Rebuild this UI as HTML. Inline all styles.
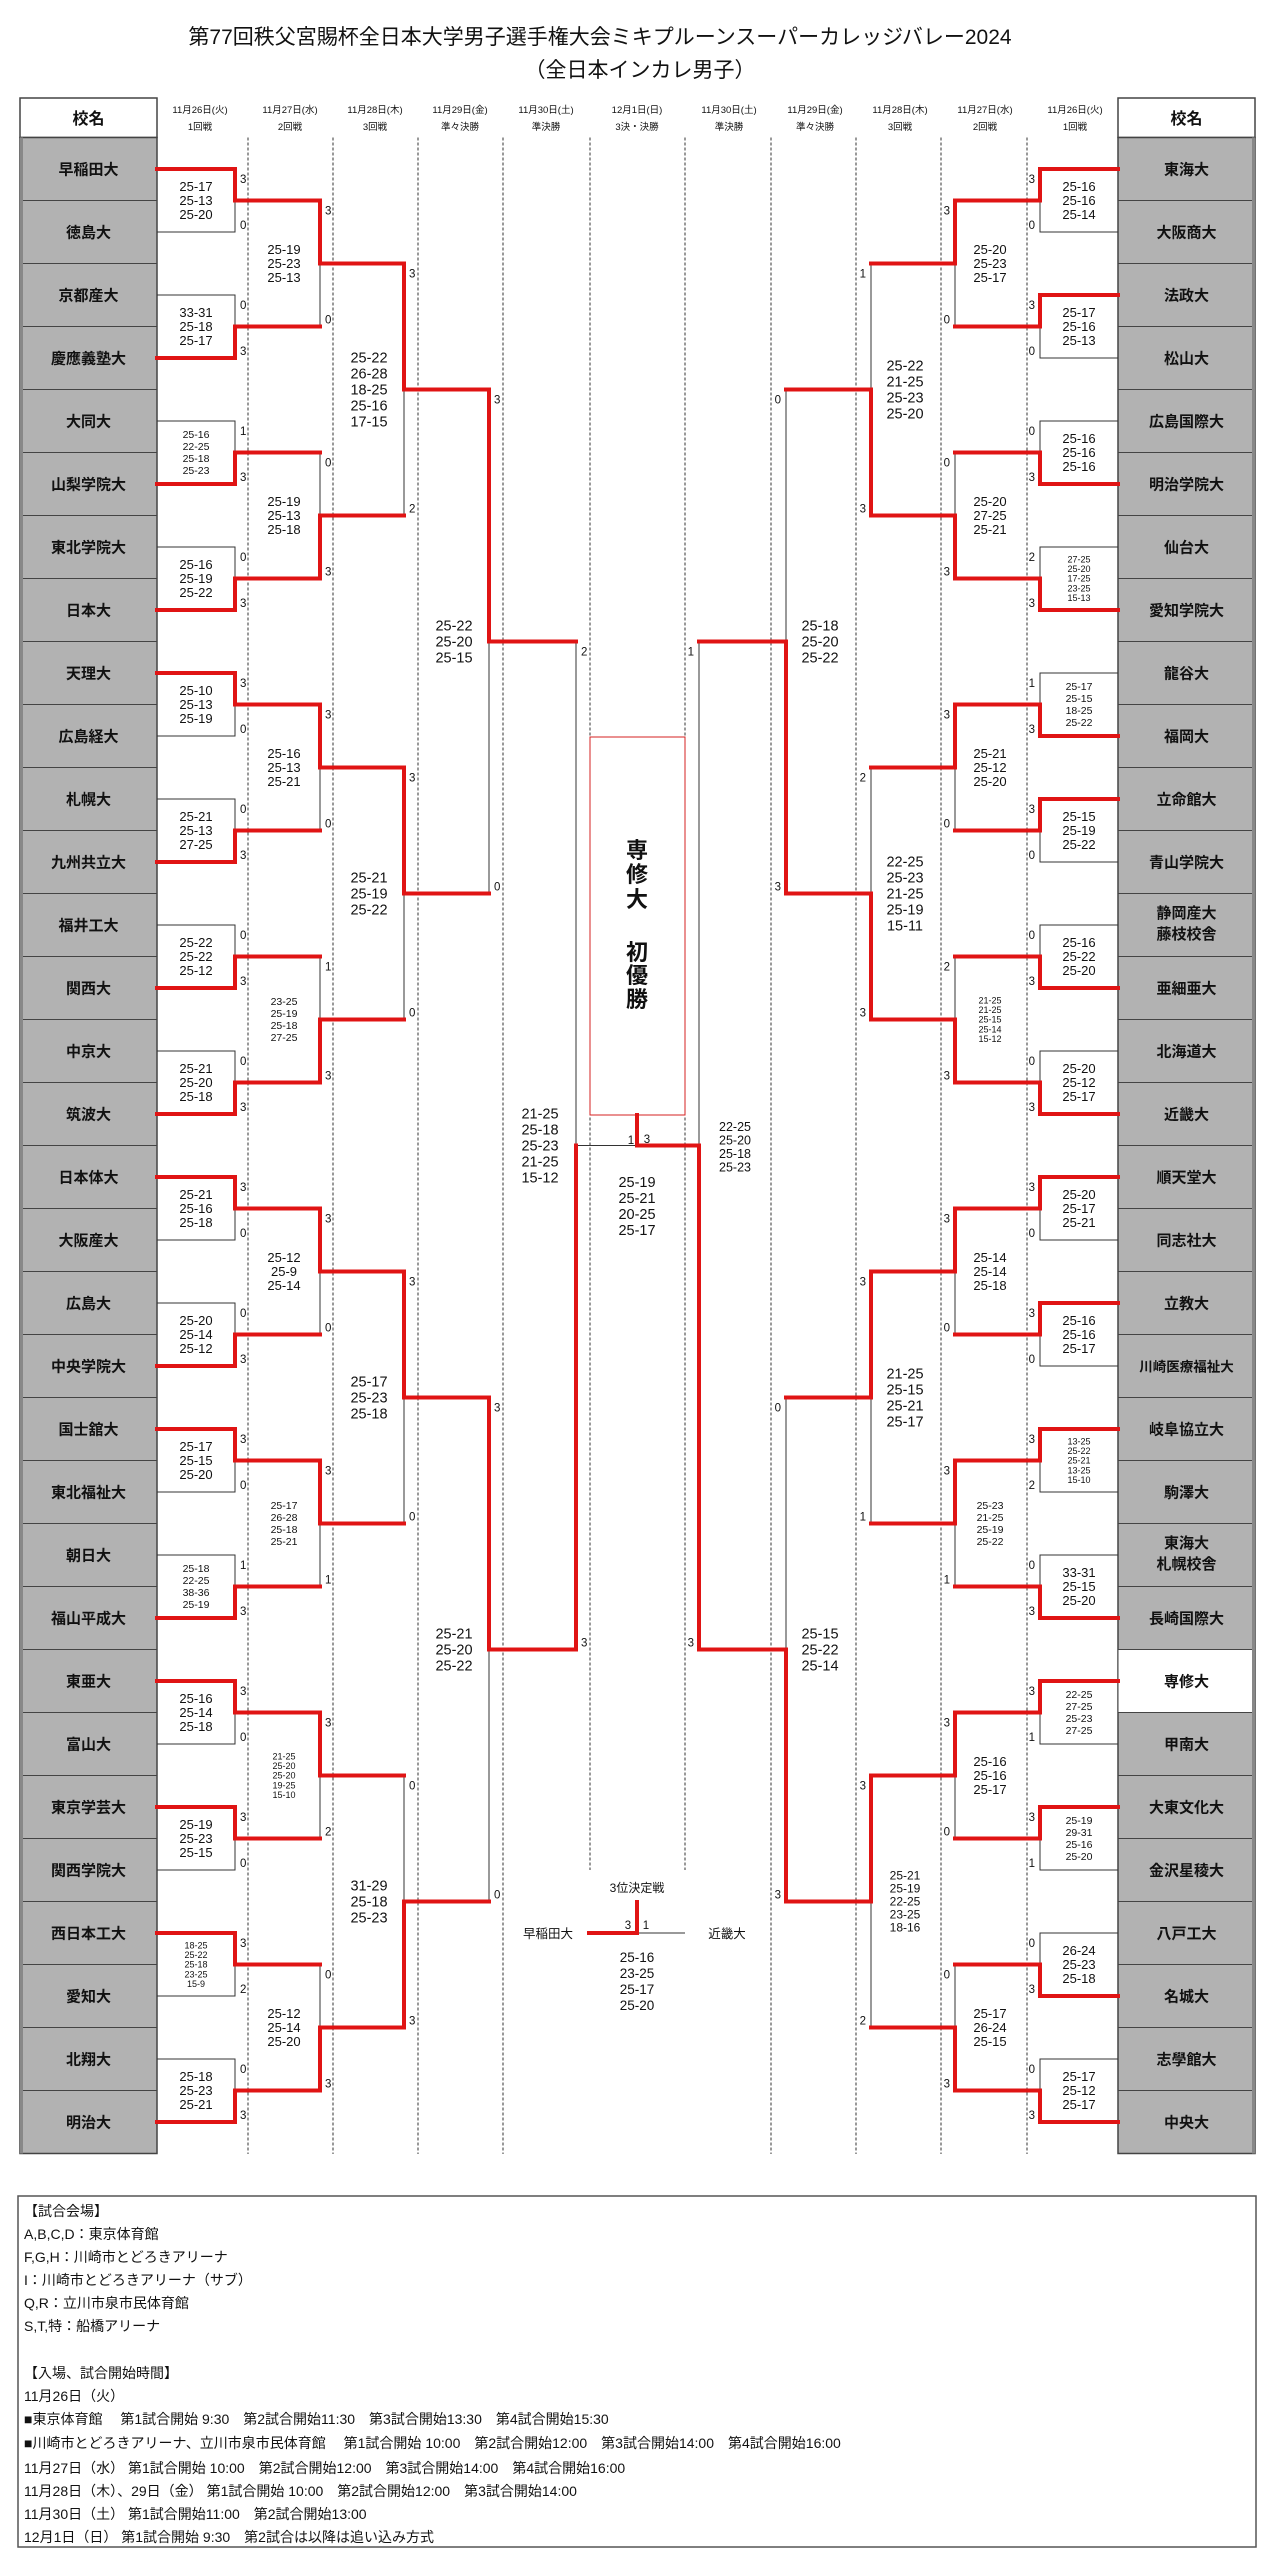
<!DOCTYPE html>
<html><head><meta charset="utf-8">
<style>
html,body{margin:0;padding:0;background:#fff;}
svg{display:block;}
text{font-family:"Liberation Sans","Noto Sans CJK JP",sans-serif;fill:#111;}
.t{font-size:21px;}
.nm{font-size:15px;font-weight:bold;text-anchor:middle;}
.hd{font-size:16px;font-weight:bold;text-anchor:middle;}
.dt{font-size:9.5px;text-anchor:middle;}
.n{font-size:11.5px;}
.ne{font-size:11.5px;text-anchor:end;}
.s3{font-size:13px;text-anchor:middle;}
.s4{font-size:10.5px;text-anchor:middle;}
.s5{font-size:9px;text-anchor:middle;}
.b{font-size:14.5px;text-anchor:middle;}
.m5{font-size:12px;text-anchor:middle;}
.m4{font-size:12.5px;text-anchor:middle;}
.ch{font-size:22px;font-weight:bold;text-anchor:middle;}
.ft{font-size:14px;}
</style></head><body>
<svg width="1285" height="2560" viewBox="0 0 1285 2560" xmlns="http://www.w3.org/2000/svg">
<rect width="1285" height="2560" fill="#fff"/>
<!-- title -->
<text class="t" x="600" y="44" text-anchor="middle">第77回秩父宮賜杯全日本大学男子選手権大会ミキプルーンスーパーカレッジバレー2024</text>
<text class="t" x="640" y="77" text-anchor="middle">（全日本インカレ男子）</text>

<!-- header cells -->
<rect x="20" y="98" width="137" height="39.5" fill="#fff" stroke="#444" stroke-width="1.5"/>
<rect x="1118" y="98" width="137" height="39.5" fill="#fff" stroke="#444" stroke-width="1.5"/>
<text class="hd" x="88.5" y="124">校名</text>
<text class="hd" x="1186.5" y="124">校名</text>

<!-- header dates -->
<g class="dt">
<text class="dt" x="200" y="113">11月26日(火)</text><text class="dt" x="200" y="130">1回戦</text>
<text class="dt" x="290" y="113">11月27日(水)</text><text class="dt" x="290" y="130">2回戦</text>
<text class="dt" x="375" y="113">11月28日(木)</text><text class="dt" x="375" y="130">3回戦</text>
<text class="dt" x="460" y="113">11月29日(金)</text><text class="dt" x="460" y="130">準々決勝</text>
<text class="dt" x="546" y="113">11月30日(土)</text><text class="dt" x="546" y="130">準決勝</text>
<text class="dt" x="637" y="113">12月1日(日)</text><text class="dt" x="637" y="130">3決・決勝</text>
<text class="dt" x="729" y="113">11月30日(土)</text><text class="dt" x="729" y="130">準決勝</text>
<text class="dt" x="815" y="113">11月29日(金)</text><text class="dt" x="815" y="130">準々決勝</text>
<text class="dt" x="900" y="113">11月28日(木)</text><text class="dt" x="900" y="130">3回戦</text>
<text class="dt" x="985" y="113">11月27日(水)</text><text class="dt" x="985" y="130">2回戦</text>
<text class="dt" x="1075" y="113">11月26日(火)</text><text class="dt" x="1075" y="130">1回戦</text>
</g>

<!-- dashed column lines -->
<g stroke="#333" stroke-width="1" stroke-dasharray="3,2">
<line x1="248" y1="137.5" x2="248" y2="2154"/>
<line x1="333" y1="137.5" x2="333" y2="2154"/>
<line x1="418" y1="137.5" x2="418" y2="2154"/>
<line x1="503" y1="137.5" x2="503" y2="2154"/>
<line x1="590" y1="137.5" x2="590" y2="1870"/>
<line x1="685" y1="137.5" x2="685" y2="1870"/>
<line x1="771" y1="137.5" x2="771" y2="2154"/>
<line x1="856" y1="137.5" x2="856" y2="2154"/>
<line x1="941" y1="137.5" x2="941" y2="2154"/>
<line x1="1027" y1="137.5" x2="1027" y2="2154"/>
</g>

<!-- name columns -->
<rect x="20" y="137.5" width="137" height="2016" fill="#b2b2b2" stroke="#444" stroke-width="1.5"/>
<rect x="1118" y="137.5" width="137" height="2016" fill="#b2b2b2" stroke="#444" stroke-width="1.5"/>
<rect x="1118" y="1649.5" width="137" height="63" fill="#fff" stroke="#444" stroke-width="1"/>
<path stroke="#444" stroke-width="1" fill="none" d="M20 200.5H157M20 263.5H157M20 326.5H157M20 389.5H157M20 452.5H157M20 515.5H157M20 578.5H157M20 641.5H157M20 704.5H157M20 767.5H157M20 830.5H157M20 893.5H157M20 956.5H157M20 1019.5H157M20 1082.5H157M20 1145.5H157M20 1208.5H157M20 1271.5H157M20 1334.5H157M20 1397.5H157M20 1460.5H157M20 1523.5H157M20 1586.5H157M20 1649.5H157M20 1712.5H157M20 1775.5H157M20 1838.5H157M20 1901.5H157M20 1964.5H157M20 2027.5H157M20 2090.5H157
M1118 200.5H1255M1118 263.5H1255M1118 326.5H1255M1118 389.5H1255M1118 452.5H1255M1118 515.5H1255M1118 578.5H1255M1118 641.5H1255M1118 704.5H1255M1118 767.5H1255M1118 830.5H1255M1118 893.5H1255M1118 956.5H1255M1118 1019.5H1255M1118 1082.5H1255M1118 1145.5H1255M1118 1208.5H1255M1118 1271.5H1255M1118 1334.5H1255M1118 1397.5H1255M1118 1460.5H1255M1118 1523.5H1255M1118 1586.5H1255M1118 1649.5H1255M1118 1712.5H1255M1118 1775.5H1255M1118 1838.5H1255M1118 1901.5H1255M1118 1964.5H1255M1118 2027.5H1255M1118 2090.5H1255"/>
<line x1="21.5" y1="137.5" x2="21.5" y2="2153.5" stroke="#888" stroke-width="3"/>
<line x1="1253.5" y1="137.5" x2="1253.5" y2="2153.5" stroke="#888" stroke-width="3"/>

<!-- left names -->
<text class="nm" x="88.5" y="174.5">早稲田大</text>
<text class="nm" x="88.5" y="237.5">徳島大</text>
<text class="nm" x="88.5" y="300.5">京都産大</text>
<text class="nm" x="88.5" y="363.5">慶應義塾大</text>
<text class="nm" x="88.5" y="426.5">大同大</text>
<text class="nm" x="88.5" y="489.5">山梨学院大</text>
<text class="nm" x="88.5" y="552.5">東北学院大</text>
<text class="nm" x="88.5" y="615.5">日本大</text>
<text class="nm" x="88.5" y="678.5">天理大</text>
<text class="nm" x="88.5" y="741.5">広島経大</text>
<text class="nm" x="88.5" y="804.5">札幌大</text>
<text class="nm" x="88.5" y="867.5">九州共立大</text>
<text class="nm" x="88.5" y="930.5">福井工大</text>
<text class="nm" x="88.5" y="993.5">関西大</text>
<text class="nm" x="88.5" y="1056.5">中京大</text>
<text class="nm" x="88.5" y="1119.5">筑波大</text>
<text class="nm" x="88.5" y="1182.5">日本体大</text>
<text class="nm" x="88.5" y="1245.5">大阪産大</text>
<text class="nm" x="88.5" y="1308.5">広島大</text>
<text class="nm" x="88.5" y="1371.5">中央学院大</text>
<text class="nm" x="88.5" y="1434.5">国士舘大</text>
<text class="nm" x="88.5" y="1497.5">東北福祉大</text>
<text class="nm" x="88.5" y="1560.5">朝日大</text>
<text class="nm" x="88.5" y="1623.5">福山平成大</text>
<text class="nm" x="88.5" y="1686.5">東亜大</text>
<text class="nm" x="88.5" y="1749.5">富山大</text>
<text class="nm" x="88.5" y="1812.5">東京学芸大</text>
<text class="nm" x="88.5" y="1875.5">関西学院大</text>
<text class="nm" x="88.5" y="1938.5">西日本工大</text>
<text class="nm" x="88.5" y="2001.5">愛知大</text>
<text class="nm" x="88.5" y="2064.5">北翔大</text>
<text class="nm" x="88.5" y="2127.5">明治大</text>

<!-- right names -->
<text class="nm" x="1186.5" y="174.5">東海大</text>
<text class="nm" x="1186.5" y="237.5">大阪商大</text>
<text class="nm" x="1186.5" y="300.5">法政大</text>
<text class="nm" x="1186.5" y="363.5">松山大</text>
<text class="nm" x="1186.5" y="426.5">広島国際大</text>
<text class="nm" x="1186.5" y="489.5">明治学院大</text>
<text class="nm" x="1186.5" y="552.5">仙台大</text>
<text class="nm" x="1186.5" y="615.5">愛知学院大</text>
<text class="nm" x="1186.5" y="678.5">龍谷大</text>
<text class="nm" x="1186.5" y="741.5">福岡大</text>
<text class="nm" x="1186.5" y="804.5">立命館大</text>
<text class="nm" x="1186.5" y="867.5">青山学院大</text>
<text class="nm" x="1186.5" y="918">静岡産大</text>
<text class="nm" x="1186.5" y="939">藤枝校舎</text>
<text class="nm" x="1186.5" y="993.5">亜細亜大</text>
<text class="nm" x="1186.5" y="1056.5">北海道大</text>
<text class="nm" x="1186.5" y="1119.5">近畿大</text>
<text class="nm" x="1186.5" y="1182.5">順天堂大</text>
<text class="nm" x="1186.5" y="1245.5">同志社大</text>
<text class="nm" x="1186.5" y="1308.5">立教大</text>
<text class="nm" x="1186.5" y="1371.5" style="font-size:13.5px">川崎医療福祉大</text>
<text class="nm" x="1186.5" y="1434.5">岐阜協立大</text>
<text class="nm" x="1186.5" y="1497.5">駒澤大</text>
<text class="nm" x="1186.5" y="1548">東海大</text>
<text class="nm" x="1186.5" y="1569">札幌校舎</text>
<text class="nm" x="1186.5" y="1623.5">長崎国際大</text>
<text class="nm" x="1186.5" y="1686.5">専修大</text>
<text class="nm" x="1186.5" y="1749.5">甲南大</text>
<text class="nm" x="1186.5" y="1812.5">大東文化大</text>
<text class="nm" x="1186.5" y="1875.5">金沢星稜大</text>
<text class="nm" x="1186.5" y="1938.5">八戸工大</text>
<text class="nm" x="1186.5" y="2001.5">名城大</text>
<text class="nm" x="1186.5" y="2064.5">志學館大</text>
<text class="nm" x="1186.5" y="2127.5">中央大</text>

<!-- black bracket lines -->
<path fill="none" stroke="#333" stroke-width="1" d="
M157 169H235V232H157M157 295H235V358H157M157 421H235V484H157M157 547H235V610H157M157 673H235V736H157M157 799H235V862H157M157 925H235V988H157M157 1051H235V1114H157M157 1177H235V1240H157M157 1303H235V1366H157M157 1429H235V1492H157M157 1555H235V1618H157M157 1681H235V1744H157M157 1807H235V1870H157M157 1933H235V1996H157M157 2059H235V2122H157
M235 200.5H320V326.5H235M235 452.5H320V578.5H235M235 704.5H320V830.5H235M235 956.5H320V1082.5H235M235 1208.5H320V1334.5H235M235 1460.5H320V1586.5H235M235 1712.5H320V1838.5H235M235 1964.5H320V2090.5H235
M320 263.5H404V515.5H320M320 767.5H404V1019.5H320M320 1271.5H404V1523.5H320M320 1775.5H404V2027.5H320
M404 389.5H489V893.5H404M404 1397.5H489V1901.5H404
M489 641.5H576V1649.5H489M576 1145.5H637
M1118 169H1040V232H1118M1118 295H1040V358H1118M1118 421H1040V484H1118M1118 547H1040V610H1118M1118 673H1040V736H1118M1118 799H1040V862H1118M1118 925H1040V988H1118M1118 1051H1040V1114H1118M1118 1177H1040V1240H1118M1118 1303H1040V1366H1118M1118 1429H1040V1492H1118M1118 1555H1040V1618H1118M1118 1681H1040V1744H1118M1118 1807H1040V1870H1118M1118 1933H1040V1996H1118M1118 2059H1040V2122H1118
M1040 200.5H955V326.5H1040M1040 452.5H955V578.5H1040M1040 704.5H955V830.5H1040M1040 956.5H955V1082.5H1040M1040 1208.5H955V1334.5H1040M1040 1460.5H955V1586.5H1040M1040 1712.5H955V1838.5H1040M1040 1964.5H955V2090.5H1040
M955 263.5H871V515.5H955M955 767.5H871V1019.5H955M955 1271.5H871V1523.5H955M955 1775.5H871V2027.5H955
M871 389.5H786V893.5H871M871 1397.5H786V1901.5H871
M786 641.5H699V1649.5H786M699 1145.5H637
M637 1933H685"/>

<!-- champion box -->
<rect x="590" y="737" width="95" height="378" fill="#fff" stroke="#d42020" stroke-width="1"/>

<!-- red winner lines -->
<path fill="none" stroke="#e01414" stroke-width="4" stroke-linejoin="miter" stroke-linecap="square" d="
M157 169H235V200.5H320M157 358H235V326.5H320M157 484H235V452.5H320M157 610H235V578.5H320M157 673H235V704.5H320M157 862H235V830.5H320M157 988H235V956.5H320M157 1114H235V1082.5H320M157 1177H235V1208.5H320M157 1366H235V1334.5H320M157 1429H235V1460.5H320M157 1618H235V1586.5H320M157 1681H235V1712.5H320M157 1807H235V1838.5H320M157 1933H235V1964.5H320M157 2122H235V2090.5H320
M320 200.5V263.5H404M320 578.5V515.5H404M320 704.5V767.5H404M320 1082.5V1019.5H404M320 1208.5V1271.5H404M320 1460.5V1523.5H404M320 1712.5V1775.5H404M320 2090.5V2027.5H404
M404 263.5V389.5H489M404 767.5V893.5H489M404 1271.5V1397.5H489M404 2027.5V1901.5H489
M489 389.5V641.5H576M489 1397.5V1649.5H576
M576 1649.5V1145.5
M1118 169H1040V200.5H955M1118 295H1040V326.5H955M1118 484H1040V452.5H955M1118 610H1040V578.5H955M1118 736H1040V704.5H955M1118 799H1040V830.5H955M1118 988H1040V956.5H955M1118 1114H1040V1082.5H955M1118 1177H1040V1208.5H955M1118 1303H1040V1334.5H955M1118 1429H1040V1460.5H955M1118 1618H1040V1586.5H955M1118 1681H1040V1712.5H955M1118 1807H1040V1838.5H955M1118 1996H1040V1964.5H955M1118 2122H1040V2090.5H955
M955 200.5V263.5H871M955 578.5V515.5H871M955 704.5V767.5H871M955 1082.5V1019.5H871M955 1208.5V1271.5H871M955 1460.5V1523.5H871M955 1712.5V1775.5H871M955 2090.5V2027.5H871
M871 515.5V389.5H786M871 1019.5V893.5H786M871 1271.5V1397.5H786M871 1775.5V1901.5H786
M786 893.5V641.5H699M786 1901.5V1649.5H699
M699 1649.5V1145.5H637V1115
M589 1933H637V1902"/>

<!-- champion text -->
<text class="ch" x="637" y="858">専</text>
<text class="ch" x="637" y="882">修</text>
<text class="ch" x="637" y="907">大</text>
<text class="ch" x="637" y="960">初</text>
<text class="ch" x="637" y="983">優</text>
<text class="ch" x="637" y="1007">勝</text>

<!-- final -->
<text class="n" x="631" y="1144" text-anchor="middle">1</text>
<text class="n" x="647" y="1143" text-anchor="middle">3</text>
<text class="b" x="637" y="1187"><tspan x="637">25-19</tspan><tspan x="637" dy="16">25-21</tspan><tspan x="637" dy="16">20-25</tspan><tspan x="637" dy="16">25-17</tspan></text>

<!-- third place -->
<text x="637" y="1892" text-anchor="middle" style="font-size:12px">3位決定戦</text>
<text x="548" y="1938" text-anchor="middle" style="font-size:12.5px">早稲田大</text>
<text x="727" y="1938" text-anchor="middle" style="font-size:12.5px">近畿大</text>
<text class="n" x="628" y="1929" text-anchor="middle">3</text>
<text class="n" x="646" y="1929" text-anchor="middle">1</text>
<text class="b" x="637" y="1962" style="font-size:13.5px"><tspan x="637">25-16</tspan><tspan x="637" dy="16">23-25</tspan><tspan x="637" dy="16">25-17</tspan><tspan x="637" dy="16">25-20</tspan></text>

<!-- LEFT R1 scores -->
<text class="s3" x="196" y="191"><tspan x="196">25-17</tspan><tspan x="196" dy="14">25-13</tspan><tspan x="196" dy="14">25-20</tspan></text>
<text class="s3" x="196" y="317"><tspan x="196">33-31</tspan><tspan x="196" dy="14">25-18</tspan><tspan x="196" dy="14">25-17</tspan></text>
<text class="s4" x="196" y="438.2"><tspan x="196">25-16</tspan><tspan x="196" dy="12">22-25</tspan><tspan x="196" dy="12">25-18</tspan><tspan x="196" dy="12">25-23</tspan></text>
<text class="s3" x="196" y="569"><tspan x="196">25-16</tspan><tspan x="196" dy="14">25-19</tspan><tspan x="196" dy="14">25-22</tspan></text>
<text class="s3" x="196" y="695"><tspan x="196">25-10</tspan><tspan x="196" dy="14">25-13</tspan><tspan x="196" dy="14">25-19</tspan></text>
<text class="s3" x="196" y="821"><tspan x="196">25-21</tspan><tspan x="196" dy="14">25-13</tspan><tspan x="196" dy="14">27-25</tspan></text>
<text class="s3" x="196" y="947"><tspan x="196">25-22</tspan><tspan x="196" dy="14">25-22</tspan><tspan x="196" dy="14">25-12</tspan></text>
<text class="s3" x="196" y="1073"><tspan x="196">25-21</tspan><tspan x="196" dy="14">25-20</tspan><tspan x="196" dy="14">25-18</tspan></text>
<text class="s3" x="196" y="1199"><tspan x="196">25-21</tspan><tspan x="196" dy="14">25-16</tspan><tspan x="196" dy="14">25-18</tspan></text>
<text class="s3" x="196" y="1325"><tspan x="196">25-20</tspan><tspan x="196" dy="14">25-14</tspan><tspan x="196" dy="14">25-12</tspan></text>
<text class="s3" x="196" y="1451"><tspan x="196">25-17</tspan><tspan x="196" dy="14">25-15</tspan><tspan x="196" dy="14">25-20</tspan></text>
<text class="s4" x="196" y="1572.2"><tspan x="196">25-18</tspan><tspan x="196" dy="12">22-25</tspan><tspan x="196" dy="12">38-36</tspan><tspan x="196" dy="12">25-19</tspan></text>
<text class="s3" x="196" y="1703"><tspan x="196">25-16</tspan><tspan x="196" dy="14">25-14</tspan><tspan x="196" dy="14">25-18</tspan></text>
<text class="s3" x="196" y="1829"><tspan x="196">25-19</tspan><tspan x="196" dy="14">25-23</tspan><tspan x="196" dy="14">25-15</tspan></text>
<text class="s5" x="196" y="1948.5"><tspan x="196">18-25</tspan><tspan x="196" dy="9.6">25-22</tspan><tspan x="196" dy="9.6">25-18</tspan><tspan x="196" dy="9.6">23-25</tspan><tspan x="196" dy="9.6">15-9</tspan></text>
<text class="s3" x="196" y="2081"><tspan x="196">25-18</tspan><tspan x="196" dy="14">25-23</tspan><tspan x="196" dy="14">25-21</tspan></text>

<!-- LEFT R2 -->
<text class="s3" x="284" y="254"><tspan x="284">25-19</tspan><tspan x="284" dy="14">25-23</tspan><tspan x="284" dy="14">25-13</tspan></text>
<text class="s3" x="284" y="506"><tspan x="284">25-19</tspan><tspan x="284" dy="14">25-13</tspan><tspan x="284" dy="14">25-18</tspan></text>
<text class="s3" x="284" y="758"><tspan x="284">25-16</tspan><tspan x="284" dy="14">25-13</tspan><tspan x="284" dy="14">25-21</tspan></text>
<text class="s4" x="284" y="1005.2"><tspan x="284">23-25</tspan><tspan x="284" dy="12">25-19</tspan><tspan x="284" dy="12">25-18</tspan><tspan x="284" dy="12">27-25</tspan></text>
<text class="s3" x="284" y="1262"><tspan x="284">25-12</tspan><tspan x="284" dy="14">25-9</tspan><tspan x="284" dy="14">25-14</tspan></text>
<text class="s4" x="284" y="1509.2"><tspan x="284">25-17</tspan><tspan x="284" dy="12">26-28</tspan><tspan x="284" dy="12">25-18</tspan><tspan x="284" dy="12">25-21</tspan></text>
<text class="s5" x="284" y="1759.5"><tspan x="284">21-25</tspan><tspan x="284" dy="9.6">25-20</tspan><tspan x="284" dy="9.6">25-20</tspan><tspan x="284" dy="9.6">19-25</tspan><tspan x="284" dy="9.6">15-10</tspan></text>
<text class="s3" x="284" y="2018"><tspan x="284">25-12</tspan><tspan x="284" dy="14">25-14</tspan><tspan x="284" dy="14">25-20</tspan></text>

<!-- LEFT R3 -->
<text class="b" x="369" y="362.6"><tspan x="369">25-22</tspan><tspan x="369" dy="16">26-28</tspan><tspan x="369" dy="16">18-25</tspan><tspan x="369" dy="16">25-16</tspan><tspan x="369" dy="16">17-15</tspan></text>
<text class="b" x="369" y="882.6"><tspan x="369">25-21</tspan><tspan x="369" dy="16">25-19</tspan><tspan x="369" dy="16">25-22</tspan></text>
<text class="b" x="369" y="1386.6"><tspan x="369">25-17</tspan><tspan x="369" dy="16">25-23</tspan><tspan x="369" dy="16">25-18</tspan></text>
<text class="b" x="369" y="1890.6"><tspan x="369">31-29</tspan><tspan x="369" dy="16">25-18</tspan><tspan x="369" dy="16">25-23</tspan></text>

<!-- LEFT QF / SF -->
<text class="b" x="454" y="630.6"><tspan x="454">25-22</tspan><tspan x="454" dy="16">25-20</tspan><tspan x="454" dy="16">25-15</tspan></text>
<text class="b" x="454" y="1638.6"><tspan x="454">25-21</tspan><tspan x="454" dy="16">25-20</tspan><tspan x="454" dy="16">25-22</tspan></text>
<text class="b" x="540" y="1118.6"><tspan x="540">21-25</tspan><tspan x="540" dy="16">25-18</tspan><tspan x="540" dy="16">25-23</tspan><tspan x="540" dy="16">21-25</tspan><tspan x="540" dy="16">15-12</tspan></text>

<!-- RIGHT R1 -->
<text class="s3" x="1079" y="191"><tspan x="1079">25-16</tspan><tspan x="1079" dy="14">25-16</tspan><tspan x="1079" dy="14">25-14</tspan></text>
<text class="s3" x="1079" y="317"><tspan x="1079">25-17</tspan><tspan x="1079" dy="14">25-16</tspan><tspan x="1079" dy="14">25-13</tspan></text>
<text class="s3" x="1079" y="443"><tspan x="1079">25-16</tspan><tspan x="1079" dy="14">25-16</tspan><tspan x="1079" dy="14">25-16</tspan></text>
<text class="s5" x="1079" y="562.5"><tspan x="1079">27-25</tspan><tspan x="1079" dy="9.6">25-20</tspan><tspan x="1079" dy="9.6">17-25</tspan><tspan x="1079" dy="9.6">23-25</tspan><tspan x="1079" dy="9.6">15-13</tspan></text>
<text class="s4" x="1079" y="690.2"><tspan x="1079">25-17</tspan><tspan x="1079" dy="12">25-15</tspan><tspan x="1079" dy="12">18-25</tspan><tspan x="1079" dy="12">25-22</tspan></text>
<text class="s3" x="1079" y="821"><tspan x="1079">25-15</tspan><tspan x="1079" dy="14">25-19</tspan><tspan x="1079" dy="14">25-22</tspan></text>
<text class="s3" x="1079" y="947"><tspan x="1079">25-16</tspan><tspan x="1079" dy="14">25-22</tspan><tspan x="1079" dy="14">25-20</tspan></text>
<text class="s3" x="1079" y="1073"><tspan x="1079">25-20</tspan><tspan x="1079" dy="14">25-12</tspan><tspan x="1079" dy="14">25-17</tspan></text>
<text class="s3" x="1079" y="1199"><tspan x="1079">25-20</tspan><tspan x="1079" dy="14">25-17</tspan><tspan x="1079" dy="14">25-21</tspan></text>
<text class="s3" x="1079" y="1325"><tspan x="1079">25-16</tspan><tspan x="1079" dy="14">25-16</tspan><tspan x="1079" dy="14">25-17</tspan></text>
<text class="s5" x="1079" y="1444.5"><tspan x="1079">13-25</tspan><tspan x="1079" dy="9.6">25-22</tspan><tspan x="1079" dy="9.6">25-21</tspan><tspan x="1079" dy="9.6">13-25</tspan><tspan x="1079" dy="9.6">15-10</tspan></text>
<text class="s3" x="1079" y="1577"><tspan x="1079">33-31</tspan><tspan x="1079" dy="14">25-15</tspan><tspan x="1079" dy="14">25-20</tspan></text>
<text class="s4" x="1079" y="1698.2"><tspan x="1079">22-25</tspan><tspan x="1079" dy="12">27-25</tspan><tspan x="1079" dy="12">25-23</tspan><tspan x="1079" dy="12">27-25</tspan></text>
<text class="s4" x="1079" y="1824.2"><tspan x="1079">25-19</tspan><tspan x="1079" dy="12">29-31</tspan><tspan x="1079" dy="12">25-16</tspan><tspan x="1079" dy="12">25-20</tspan></text>
<text class="s3" x="1079" y="1955"><tspan x="1079">26-24</tspan><tspan x="1079" dy="14">25-23</tspan><tspan x="1079" dy="14">25-18</tspan></text>
<text class="s3" x="1079" y="2081"><tspan x="1079">25-17</tspan><tspan x="1079" dy="14">25-12</tspan><tspan x="1079" dy="14">25-17</tspan></text>

<!-- RIGHT R2 -->
<text class="s3" x="990" y="254"><tspan x="990">25-20</tspan><tspan x="990" dy="14">25-23</tspan><tspan x="990" dy="14">25-17</tspan></text>
<text class="s3" x="990" y="506"><tspan x="990">25-20</tspan><tspan x="990" dy="14">27-25</tspan><tspan x="990" dy="14">25-21</tspan></text>
<text class="s3" x="990" y="758"><tspan x="990">25-21</tspan><tspan x="990" dy="14">25-12</tspan><tspan x="990" dy="14">25-20</tspan></text>
<text class="s5" x="990" y="1003.5"><tspan x="990">21-25</tspan><tspan x="990" dy="9.6">21-25</tspan><tspan x="990" dy="9.6">25-15</tspan><tspan x="990" dy="9.6">25-14</tspan><tspan x="990" dy="9.6">15-12</tspan></text>
<text class="s3" x="990" y="1262"><tspan x="990">25-14</tspan><tspan x="990" dy="14">25-14</tspan><tspan x="990" dy="14">25-18</tspan></text>
<text class="s4" x="990" y="1509.2"><tspan x="990">25-23</tspan><tspan x="990" dy="12">21-25</tspan><tspan x="990" dy="12">25-19</tspan><tspan x="990" dy="12">25-22</tspan></text>
<text class="s3" x="990" y="1766"><tspan x="990">25-16</tspan><tspan x="990" dy="14">25-16</tspan><tspan x="990" dy="14">25-17</tspan></text>
<text class="s3" x="990" y="2018"><tspan x="990">25-17</tspan><tspan x="990" dy="14">26-24</tspan><tspan x="990" dy="14">25-15</tspan></text>

<!-- RIGHT R3 -->
<text class="b" x="905" y="370.6"><tspan x="905">25-22</tspan><tspan x="905" dy="16">21-25</tspan><tspan x="905" dy="16">25-23</tspan><tspan x="905" dy="16">25-20</tspan></text>
<text class="b" x="905" y="866.6"><tspan x="905">22-25</tspan><tspan x="905" dy="16">25-23</tspan><tspan x="905" dy="16">21-25</tspan><tspan x="905" dy="16">25-19</tspan><tspan x="905" dy="16">15-11</tspan></text>
<text class="b" x="905" y="1378.6"><tspan x="905">21-25</tspan><tspan x="905" dy="16">25-15</tspan><tspan x="905" dy="16">25-21</tspan><tspan x="905" dy="16">25-17</tspan></text>
<text class="m5" x="905" y="1879.7"><tspan x="905">25-21</tspan><tspan x="905" dy="13">25-19</tspan><tspan x="905" dy="13">22-25</tspan><tspan x="905" dy="13">23-25</tspan><tspan x="905" dy="13">18-16</tspan></text>

<!-- RIGHT QF / SF -->
<text class="b" x="820" y="630.6"><tspan x="820">25-18</tspan><tspan x="820" dy="16">25-20</tspan><tspan x="820" dy="16">25-22</tspan></text>
<text class="b" x="820" y="1638.6"><tspan x="820">25-15</tspan><tspan x="820" dy="16">25-22</tspan><tspan x="820" dy="16">25-14</tspan></text>
<text class="m4" x="735" y="1131.2"><tspan x="735">22-25</tspan><tspan x="735" dy="13.5">25-20</tspan><tspan x="735" dy="13.5">25-18</tspan><tspan x="735" dy="13.5">25-23</tspan></text>

<!-- LEFT set counts -->
<g class="n">
<text class="n" x="240" y="183">3</text><text class="n" x="240" y="229">0</text>
<text class="n" x="240" y="309">0</text><text class="n" x="240" y="355">3</text>
<text class="n" x="240" y="435">1</text><text class="n" x="240" y="481">3</text>
<text class="n" x="240" y="561">0</text><text class="n" x="240" y="607">3</text>
<text class="n" x="240" y="687">3</text><text class="n" x="240" y="733">0</text>
<text class="n" x="240" y="813">0</text><text class="n" x="240" y="859">3</text>
<text class="n" x="240" y="939">0</text><text class="n" x="240" y="985">3</text>
<text class="n" x="240" y="1065">0</text><text class="n" x="240" y="1111">3</text>
<text class="n" x="240" y="1191">3</text><text class="n" x="240" y="1237">0</text>
<text class="n" x="240" y="1317">0</text><text class="n" x="240" y="1363">3</text>
<text class="n" x="240" y="1443">3</text><text class="n" x="240" y="1489">0</text>
<text class="n" x="240" y="1569">1</text><text class="n" x="240" y="1615">3</text>
<text class="n" x="240" y="1695">3</text><text class="n" x="240" y="1741">0</text>
<text class="n" x="240" y="1821">3</text><text class="n" x="240" y="1867">0</text>
<text class="n" x="240" y="1947">3</text><text class="n" x="240" y="1993">2</text>
<text class="n" x="240" y="2073">0</text><text class="n" x="240" y="2119">3</text>

<text class="n" x="325" y="214.5">3</text><text class="n" x="325" y="323.5">0</text>
<text class="n" x="325" y="466.5">0</text><text class="n" x="325" y="575.5">3</text>
<text class="n" x="325" y="718.5">3</text><text class="n" x="325" y="827.5">0</text>
<text class="n" x="325" y="970.5">1</text><text class="n" x="325" y="1079.5">3</text>
<text class="n" x="325" y="1222.5">3</text><text class="n" x="325" y="1331.5">0</text>
<text class="n" x="325" y="1474.5">3</text><text class="n" x="325" y="1583.5">1</text>
<text class="n" x="325" y="1726.5">3</text><text class="n" x="325" y="1835.5">2</text>
<text class="n" x="325" y="1978.5">0</text><text class="n" x="325" y="2087.5">3</text>

<text class="n" x="409" y="277.5">3</text><text class="n" x="409" y="512.5">2</text>
<text class="n" x="409" y="781.5">3</text><text class="n" x="409" y="1016.5">0</text>
<text class="n" x="409" y="1285.5">3</text><text class="n" x="409" y="1520.5">0</text>
<text class="n" x="409" y="1789.5">0</text><text class="n" x="409" y="2024.5">3</text>

<text class="n" x="494" y="403.5">3</text><text class="n" x="494" y="890.5">0</text>
<text class="n" x="494" y="1411.5">3</text><text class="n" x="494" y="1898.5">0</text>

<text class="n" x="581" y="655.5">2</text><text class="n" x="581" y="1646.5">3</text>
</g>

<!-- RIGHT set counts -->
<text class="ne" x="1035" y="183">3</text><text class="ne" x="1035" y="229">0</text>
<text class="ne" x="1035" y="309">3</text><text class="ne" x="1035" y="355">0</text>
<text class="ne" x="1035" y="435">0</text><text class="ne" x="1035" y="481">3</text>
<text class="ne" x="1035" y="561">2</text><text class="ne" x="1035" y="607">3</text>
<text class="ne" x="1035" y="687">1</text><text class="ne" x="1035" y="733">3</text>
<text class="ne" x="1035" y="813">3</text><text class="ne" x="1035" y="859">0</text>
<text class="ne" x="1035" y="939">0</text><text class="ne" x="1035" y="985">3</text>
<text class="ne" x="1035" y="1065">0</text><text class="ne" x="1035" y="1111">3</text>
<text class="ne" x="1035" y="1191">3</text><text class="ne" x="1035" y="1237">0</text>
<text class="ne" x="1035" y="1317">3</text><text class="ne" x="1035" y="1363">0</text>
<text class="ne" x="1035" y="1443">3</text><text class="ne" x="1035" y="1489">2</text>
<text class="ne" x="1035" y="1569">0</text><text class="ne" x="1035" y="1615">3</text>
<text class="ne" x="1035" y="1695">3</text><text class="ne" x="1035" y="1741">1</text>
<text class="ne" x="1035" y="1821">3</text><text class="ne" x="1035" y="1867">1</text>
<text class="ne" x="1035" y="1947">0</text><text class="ne" x="1035" y="1993">3</text>
<text class="ne" x="1035" y="2073">0</text><text class="ne" x="1035" y="2119">3</text>

<text class="ne" x="950" y="214.5">3</text><text class="ne" x="950" y="323.5">0</text>
<text class="ne" x="950" y="466.5">0</text><text class="ne" x="950" y="575.5">3</text>
<text class="ne" x="950" y="718.5">3</text><text class="ne" x="950" y="827.5">0</text>
<text class="ne" x="950" y="970.5">2</text><text class="ne" x="950" y="1079.5">3</text>
<text class="ne" x="950" y="1222.5">3</text><text class="ne" x="950" y="1331.5">0</text>
<text class="ne" x="950" y="1474.5">3</text><text class="ne" x="950" y="1583.5">1</text>
<text class="ne" x="950" y="1726.5">3</text><text class="ne" x="950" y="1835.5">0</text>
<text class="ne" x="950" y="1978.5">0</text><text class="ne" x="950" y="2087.5">3</text>

<text class="ne" x="866" y="277.5">1</text><text class="ne" x="866" y="512.5">3</text>
<text class="ne" x="866" y="781.5">2</text><text class="ne" x="866" y="1016.5">3</text>
<text class="ne" x="866" y="1285.5">3</text><text class="ne" x="866" y="1520.5">1</text>
<text class="ne" x="866" y="1789.5">3</text><text class="ne" x="866" y="2024.5">2</text>

<text class="ne" x="781" y="403.5">0</text><text class="ne" x="781" y="890.5">3</text>
<text class="ne" x="781" y="1411.5">0</text><text class="ne" x="781" y="1898.5">3</text>

<text class="ne" x="694" y="655.5">1</text><text class="ne" x="694" y="1646.5">3</text>

<!-- footer -->
<rect x="18" y="2196" width="1238" height="351" fill="#fff" stroke="#555" stroke-width="1.5"/>
<text class="ft" x="24" y="2216">【試合会場】</text>
<text class="ft" x="24" y="2239">A,B,C,D：東京体育館</text>
<text class="ft" x="24" y="2262">F,G,H：川崎市とどろきアリーナ</text>
<text class="ft" x="24" y="2285">I：川崎市とどろきアリーナ（サブ）</text>
<text class="ft" x="24" y="2308">Q,R：立川市泉市民体育館</text>
<text class="ft" x="24" y="2331">S,T,特：船橋アリーナ</text>
<text class="ft" x="24" y="2378">【入場、試合開始時間】</text>
<text class="ft" x="24" y="2401">11月26日（火）</text>
<text class="ft" x="24" y="2424">■東京体育館　 第1試合開始 9:30　第2試合開始11:30　第3試合開始13:30　第4試合開始15:30</text>
<text class="ft" x="24" y="2448">■川崎市とどろきアリーナ、立川市泉市民体育館　 第1試合開始 10:00　第2試合開始12:00　第3試合開始14:00　第4試合開始16:00</text>
<text class="ft" x="24" y="2473">11月27日（水） 第1試合開始 10:00　第2試合開始12:00　第3試合開始14:00　第4試合開始16:00</text>
<text class="ft" x="24" y="2496">11月28日（木）、29日（金） 第1試合開始 10:00　第2試合開始12:00　第3試合開始14:00</text>
<text class="ft" x="24" y="2519">11月30日（土） 第1試合開始11:00　第2試合開始13:00</text>
<text class="ft" x="24" y="2542">12月1日（日） 第1試合開始 9:30　第2試合は以降は追い込み方式</text>
</svg>
</body></html>
